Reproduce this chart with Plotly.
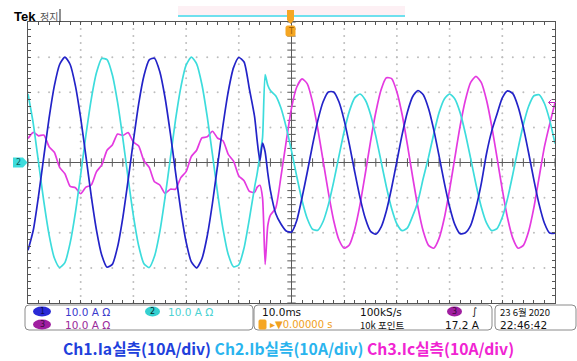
import plotly.graph_objects as go

# ---------------- data ----------------
time_ms = list(range(0, 44)) + [43.5, 44, 44.5, 45, 45.5] + list(range(46, 101))

ia = [-25, -19.3, -9.5, 1.7, 12.6, 21.8, 27.9, 30, 27.9, 21.8,
      12.6, 1.7, -9.5, -19.3, -26.4, -29.8, -29.0, -24.0, -15.6, -5.0,
      6.2, 16.7, 24.7, 29.2, 29.7, 25.9, 18.5, 8.4, -2.8, -13.7,
      -22.6, -28.3, -30, -27.4, -21, -11.6, -0.5, 10.6, 20.2, 27,
      29.9, 28.6, 21, 13,
      6, 0.5, 5.5, 3, -3,
      -8, -14.5, -17.5, -19.5, -19.8, -16.5, -10, -2.7, 5, 12,
      17.3, 20.1, 20.1, 17.3, 12, 5, -2.7, -10, -15.9, -19.6,
      -20.4, -18.4, -13.8, -7.2, 0.4, 8, 14.4, 18.8, 20.5, 19.3,
      15.4, 9.3, 1.9, -5.8, -12.6, -17.7, -20.3, -20, -17.9, -12.9,
      -6.1, 2.5, 9, 13.8, 18.4, 20.4, 19.6, 15.9, 10, 2.7,
      -5, -12, -17.3, -20.1, -20.1]

ib = [19.5, 11.1, 0, -11.1, -20.6, -27.2, -29.9, -28.5, -22.9, -14.2,
      -3.4, 7.9, 18, 25.6, 29.6, 29.3, 25, 17.1, 6.8, -4.5,
      -15.2, -23.7, -28.8, -29.9, -26.7, -19.8, -10, 1.1, 12.2, 21.4,
      27.7, 30, 28.1, 22.2, 13.1, 2.3, -9, -18.9, -26.2, -29.7,
      -29.1, -24.3, -16.1, -7,
      -3, 2, 7, 25, 22,
      20.5, 19, 15.5, 10, 3.3, -4, -10.8, -16, -19, -19.3,
      -16.8, -12, -5.5, 1.8, 8.9, 14.7, 18.4, 19.5, 17.8, 13.7,
      7.5, 0.3, -6.9, -13.1, -17.5, -19.4, -18.6, -15.2, -11, -4.5,
      1.5, 8.2, 14.2, 18.1, 19.5, 18.1, 14.2, 8.2, 1.1, -6.2,
      -12.6, -17.2, -19.4, -18.8, -15.6, -10.2, -3.3, 4, 10.8, 16,
      19, 19.3, 16.8, 12, 5.4]

ic = [6.8, 8.6, 7.6, 7.8, 4.5, 2.9, -1.4, -3.2, -6.8, -7.2,
      -8.9, -7.0, -6.4, -2.6, -0.7, 3.5, 5.0, 8.1, 7.7, 8.5,
      5.8, 4.7, 0.5, -1.4, -5.5, -6.4, -8.8, -7.6, -7.6, -4.3,
      -2.6, 1.7, 3.5, 7.0, 7.3, 8.9, 6.9, 6.2, 2.3, 0.4,
      -3.8, -5.2, -8.2, -8.5,
      -7, -6.5, -10, -29, -18,
      -15, -13, -4, 6, 15.5, 21.5, 23.8, 22.4, 17.2, 9.5,
      0.5, -8.6, -16.5, -22, -24.4, -23.4, -19, -12, -3.2, 6,
      14.3, 20.7, 24.1, 23.9, 20.1, 13.6, 5, -4.2, -12.8, -19.6,
      -23.6, -24.4, -21.6, -15.8, -7.7, 1.4, 10.4, 17.8, 22.8, 24.5,
      22.8, 17.8, 10.3, 1.4, -7.7, -15.8, -21.6, -24.4, -23.6, -19.6,
      -12.8, -4.1, 4.5, 11, 17]

channel_names = ["Ch1.Ia실측(10A/div)", "Ch2.Ib실측(10A/div)", "Ch3.Ic실측(10A/div)"]
trace_colors = ["#2323c8", "#3ddcdc", "#e43ae0"]
title_colors = ["#2140dc", "#2ab4ee", "#f024d2"]
status_scale = "10.0 A Ω"
timebase = "10.0ms"
sample_rate = "100kS/s"
record_len = "10k 포인트"
trig_pos = "▸▼0.00000 s"
trig_level = "17.2 A"
date_txt = "23 6월 2020"
time_txt = "22:46:42"

# ---------------- geometry helpers ----------------
W, H = 577, 361
L, R, T, B = 28, 555, 22, 303


def px(x):
    return (x - L) / (R - L)


def py(y):
    return (B - y) / (B - T)


fig = go.Figure()

# dotted graticule
gx, gy = [], []
for xv in range(10, 100, 10):
    if xv == 50:
        continue
    for yv in range(-40, 41, 2):
        gx.append(xv)
        gy.append(yv)
for yv in range(-30, 31, 10):
    if yv == 0:
        continue
    for xv in range(0, 101, 2):
        gx.append(xv)
        gy.append(yv)
fig.add_trace(go.Scatter(x=gx, y=gy, mode="markers", hoverinfo="skip",
                         marker=dict(size=2, color="#bdbdbd", line=dict(width=0)),
                         showlegend=False))

# centre cross lines with ticks
fig.add_trace(go.Scatter(x=[0, 100], y=[0, 0], mode="lines", hoverinfo="skip",
                         line=dict(color="#5a5a5a", width=1), showlegend=False))
fig.add_trace(go.Scatter(x=[50, 50], y=[-40, 40], mode="lines", hoverinfo="skip",
                         line=dict(color="#5a5a5a", width=1), showlegend=False))
fig.add_trace(go.Scatter(x=list(range(0, 101, 2)), y=[0] * 51, mode="markers",
                         hoverinfo="skip", showlegend=False,
                         marker=dict(symbol="line-ns", size=6,
                                     line=dict(width=1, color="#5a5a5a"))))
fig.add_trace(go.Scatter(x=[50] * 41, y=list(range(-40, 41, 2)), mode="markers",
                         hoverinfo="skip", showlegend=False,
                         marker=dict(symbol="line-ew", size=6,
                                     line=dict(width=1, color="#5a5a5a"))))

# waveforms
for vals, col in [(ic, trace_colors[2]), (ib, trace_colors[1]), (ia, trace_colors[0])]:
    fig.add_trace(go.Scatter(x=time_ms, y=vals, mode="lines", hoverinfo="skip",
                             line=dict(color=col, width=1.7, shape="spline", smoothing=0.6),
                             showlegend=False))

fig.update_xaxes(range=[0, 100], showgrid=False, zeroline=False, showticklabels=False,
                 showline=True, linecolor="#555555", linewidth=1, mirror="ticks",
                 ticks="inside", dtick=2, tick0=0, ticklen=3, tickcolor="#555555")
fig.update_yaxes(range=[-40, 40], showgrid=False, zeroline=False, showticklabels=False,
                 showline=True, linecolor="#555555", linewidth=1, mirror="ticks",
                 ticks="inside", dtick=2, tick0=0, ticklen=3, tickcolor="#555555")

shapes = []
annots = []


def rrect(x0, y0, x1, y1, r, line_col, fill_col, lw=1):
    rx = r / (R - L)
    ry = r / (B - T)
    X0, X1 = px(x0), px(x1)
    Y0, Y1 = py(y1), py(y0)  # bottom, top in paper coords
    path = (f"M {X0 + rx},{Y0} L {X1 - rx},{Y0} Q {X1},{Y0} {X1},{Y0 + ry} "
            f"L {X1},{Y1 - ry} Q {X1},{Y1} {X1 - rx},{Y1} L {X0 + rx},{Y1} "
            f"Q {X0},{Y1} {X0},{Y1 - ry} L {X0},{Y0 + ry} Q {X0},{Y0} {X0 + rx},{Y0} Z")
    shapes.append(dict(type="path", xref="paper", yref="paper", path=path,
                       line=dict(color=line_col, width=lw), fillcolor=fill_col, layer="above"))


def oval(x0, y0, x1, y1, fill_col, label, label_col):
    shapes.append(dict(type="circle", xref="paper", yref="paper",
                       x0=px(x0), x1=px(x1), y0=py(y1), y1=py(y0),
                       fillcolor=fill_col, line=dict(width=0), layer="above"))
    annots.append(dict(x=px((x0 + x1) / 2), y=py((y0 + y1) / 2), xref="paper", yref="paper",
                       text=label, showarrow=False, xanchor="center", yanchor="middle",
                       font=dict(family="DejaVu Sans", size=8, color=label_col)))


def txt(x, y, s, col, size=11, anchor="left", family="DejaVu Sans", bold=False):
    if bold:
        s = f"<b>{s}</b>"
    annots.append(dict(x=px(x), y=py(y), xref="paper", yref="paper", text=s,
                       showarrow=False, xanchor=anchor, yanchor="middle",
                       font=dict(family=family, size=size, color=col)))


# header
txt(12, 16, "Tek", "#000000", size=13, family="Liberation Sans", bold=True)
txt(38, 16, "정지", "#555555", size=10, family="Noto Sans CJK KR")
shapes.append(dict(type="line", xref="paper", yref="paper", x0=px(60), x1=px(60),
                   y0=py(22), y1=py(9), line=dict(color="#222222", width=1)))
shapes.append(dict(type="rect", xref="paper", yref="paper", x0=px(178), x1=px(405),
                   y0=py(15), y1=py(6), fillcolor="#fdf0f4", line=dict(width=0)))
shapes.append(dict(type="line", xref="paper", yref="paper", x0=px(178), x1=px(405),
                   y0=py(16), y1=py(16), line=dict(color="#3fd6e8", width=1.5)))

# trigger position marker (orange)
tx = 290.5
shapes.append(dict(type="path", xref="paper", yref="paper",
                   path=(f"M {px(tx-3.5)},{py(10)} L {px(tx+3.5)},{py(10)} L {px(tx+3.5)},{py(20)} "
                         f"L {px(tx)},{py(24)} L {px(tx-3.5)},{py(20)} Z"),
                   fillcolor="#f5a623", line=dict(width=0), layer="above"))
rrect(tx - 4.5, 26, tx + 4.5, 36, 1.5, "#f5a623", "#f5a623")
txt(tx, 31, "T", "#9a5a00", size=8, anchor="center")

# left ground marker "2"
shapes.append(dict(type="path", xref="paper", yref="paper",
                   path=(f"M {px(13)},{py(157.5)} L {px(23)},{py(157.5)} L {px(27.5)},{py(162.5)} "
                         f"L {px(23)},{py(167.5)} L {px(13)},{py(167.5)} Z"),
                   fillcolor="#3ddcdc", line=dict(width=0), layer="above"))
txt(18.5, 162.5, "2", "#105a5a", size=8, anchor="center")

# trigger level arrow on the right (magenta)
shapes.append(dict(type="path", xref="paper", yref="paper",
                   path=(f"M {px(556)},{py(102.5)} L {px(548.5)},{py(102.5)} "
                         f"M {px(551.5)},{py(99.5)} L {px(548.5)},{py(102.5)} L {px(551.5)},{py(105.5)}"),
                   line=dict(color="#c02ac0", width=1), layer="above"))

# status bar boxes
rrect(25, 305, 253, 330, 4, "#8a8a8a", "rgba(0,0,0,0)")
rrect(254, 305, 492, 330, 4, "#8a8a8a", "rgba(0,0,0,0)")
rrect(495, 305, 576, 330, 4, "#8a8a8a", "rgba(0,0,0,0)")

ROW1, ROW2 = 311.5, 324.5
oval(33, ROW1 - 5, 51, ROW1 + 5, "#2a2ad6", "1", "#0c0c5a")
txt(63, ROW1, status_scale, "#3a3acc", size=10.5)
oval(145, ROW1 - 5, 160, ROW1 + 5, "#35d0d0", "2", "#0a2a2a")
txt(166, ROW1, status_scale, "#4cd2d2", size=10.5)
oval(33, ROW2 - 5, 51, ROW2 + 5, "#a01fa0", "3", "#3a0a3a")
txt(63, ROW2, status_scale, "#9a2a9a", size=10.5)

txt(260, ROW1, timebase, "#111111", size=10.5)
rrect(259, ROW2 - 4.5, 266, ROW2 + 4.5, 1, "#f5a623", "#f5a623")
txt(268, ROW2, trig_pos, "#f0a020", size=10)
txt(358, ROW1, sample_rate, "#111111", size=10.5)
txt(358, ROW2, record_len, "#111111", size=9.5, family="Noto Sans CJK KR")
oval(447, ROW1 - 5, 462, ROW1 + 5, "#a01fa0", "3", "#3a0a3a")
txt(474, ROW1, "∫", "#111111", size=10, anchor="center")
txt(482, ROW2, trig_level, "#111111", size=10.5, anchor="right")
txt(498, ROW1, date_txt, "#111111", size=9.5, family="Noto Sans CJK KR")
txt(498, ROW2, time_txt, "#111111", size=10.5)

# bottom caption
cap = " ".join(f"<span style='color:{c}'>{n}</span>" for n, c in zip(channel_names, title_colors))
annots.append(dict(x=px(288), y=py(348), xref="paper", yref="paper", text=f"<b>{cap}</b>",
                   showarrow=False, xanchor="center", yanchor="middle",
                   font=dict(family="Noto Sans CJK KR", size=15.7, color="#2140dc")))

fig.update_layout(width=W, height=H, margin=dict(l=L, r=W - R, t=T, b=H - B),
                  paper_bgcolor="white", plot_bgcolor="white",
                  shapes=shapes, annotations=annots, showlegend=False)

fig.write_html("out.html", config={"displayModeBar": False},
               post_script="document.body.style.margin='0';document.body.style.overflow='hidden';")
